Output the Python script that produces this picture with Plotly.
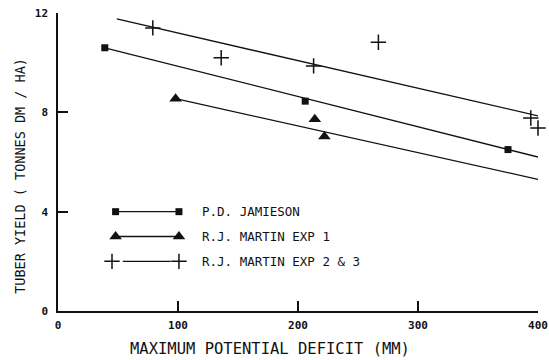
import plotly.graph_objects as go

# Observed data
jam_x = [39, 206, 375]
jam_y = [10.6, 8.45, 6.5]
m1_x = [98, 214, 222]
m1_y = [8.55, 7.72, 7.03]
m23_x = [79, 136, 213, 267, 394, 400]
m23_y = [11.4, 10.2, 9.87, 10.82, 7.77, 7.37]

# Fitted regression lines (end points)
jam_fit_x = [39, 400]
jam_fit_y = [10.6, 6.2]
m1_fit_x = [98, 400]
m1_fit_y = [8.55, 5.3]
m23_fit_x = [49, 400]
m23_fit_y = [11.76, 7.86]

# Legend
legend_labels = ["P.D. JAMIESON", "R.J. MARTIN EXP 1", "R.J. MARTIN EXP 2 & 3"]
legend_y = [4, 3, 2]

x_ticks = [0, 100, 200, 300, 400]
y_ticks = [0, 4, 8, 12]

x_title = "MAXIMUM POTENTIAL DEFICIT (MM)"
y_title = "TUBER YIELD ( TONNES DM / HA)"

BLACK = "#111111"
fig = go.Figure()

for fx, fy in [(jam_fit_x, jam_fit_y), (m1_fit_x, m1_fit_y), (m23_fit_x, m23_fit_y)]:
    fig.add_trace(go.Scatter(x=fx, y=fy, mode="lines", cliponaxis=False,
                             line=dict(color=BLACK, width=1.3), showlegend=False))

fig.add_trace(go.Scatter(x=jam_x, y=jam_y, mode="markers", cliponaxis=False,
                         marker=dict(symbol="square", size=7, color=BLACK), showlegend=False))
fig.add_trace(go.Scatter(x=m1_x, y=m1_y, mode="markers", cliponaxis=False,
                         marker=dict(symbol="triangle-up", size=11, color=BLACK), showlegend=False))
fig.add_trace(go.Scatter(x=m23_x, y=m23_y, mode="markers", cliponaxis=False,
                         marker=dict(symbol="cross-thin", size=11,
                                     line=dict(color=BLACK, width=1.5)), showlegend=False))

# Hand-drawn legend keys
fig.add_trace(go.Scatter(x=[48, 100.8], y=[legend_y[0]] * 2, mode="lines+markers",
                         line=dict(color=BLACK, width=1.3),
                         marker=dict(symbol="square", size=7, color=BLACK), showlegend=False))
fig.add_trace(go.Scatter(x=[48, 100.8], y=[legend_y[1]] * 2, mode="lines+markers",
                         line=dict(color=BLACK, width=1.3),
                         marker=dict(symbol="triangle-up", size=11, color=BLACK), showlegend=False))
fig.add_trace(go.Scatter(x=[54, 94], y=[legend_y[2]] * 2, mode="lines",
                         line=dict(color=BLACK, width=1.1), showlegend=False))
fig.add_trace(go.Scatter(x=[45, 100.8], y=[legend_y[2]] * 2, mode="markers",
                         marker=dict(symbol="cross-thin", size=11,
                                     line=dict(color=BLACK, width=1.5)), showlegend=False))

for lab, ly in zip(legend_labels, legend_y):
    fig.add_annotation(x=118, y=ly, text=lab, showarrow=False, xanchor="left",
                       yanchor="middle", xref="x", yref="y",
                       font=dict(family="DejaVu Sans Mono", size=12.5, color=BLACK))

# Axis titles as annotations (positioned like the reference)
fig.add_annotation(x=0.4417, y=-0.129, xref="paper", yref="paper", text=x_title,
                   showarrow=False, xanchor="center", yanchor="middle",
                   font=dict(family="DejaVu Sans Mono", size=15.5, color=BLACK))
fig.add_annotation(x=-0.079, y=0.454, xref="paper", yref="paper", text=y_title,
                   showarrow=False, xanchor="center", yanchor="middle", textangle=-90,
                   font=dict(family="DejaVu Sans Mono", size=13.5, color=BLACK))

tickfont = dict(family="DejaVu Sans Mono", size=11, color=BLACK, weight="bold")
fig.update_layout(
    width=549, height=360,
    margin=dict(l=58, r=11, t=13, b=48.5, autoexpand=False),
    paper_bgcolor="white", plot_bgcolor="white",
    xaxis=dict(range=[0, 400], tickvals=x_ticks, automargin=False,
               showline=True, linecolor=BLACK, linewidth=1.5,
               ticks="inside", ticklen=10, tickwidth=1.5, tickcolor=BLACK,
               showgrid=False, zeroline=False, tickfont=tickfont,
               ticklabelstandoff=3),
    yaxis=dict(range=[0, 12], tickvals=y_ticks, automargin=False,
               showline=True, linecolor=BLACK, linewidth=1.5,
               ticks="inside", ticklen=10, tickwidth=1.5, tickcolor=BLACK,
               showgrid=False, zeroline=False, tickfont=tickfont,
               ticklabelstandoff=6),
)

fig.write_html("out.html", config={"displayModeBar": False},
               post_script="document.body.style.margin='0';document.body.style.padding='0';")
